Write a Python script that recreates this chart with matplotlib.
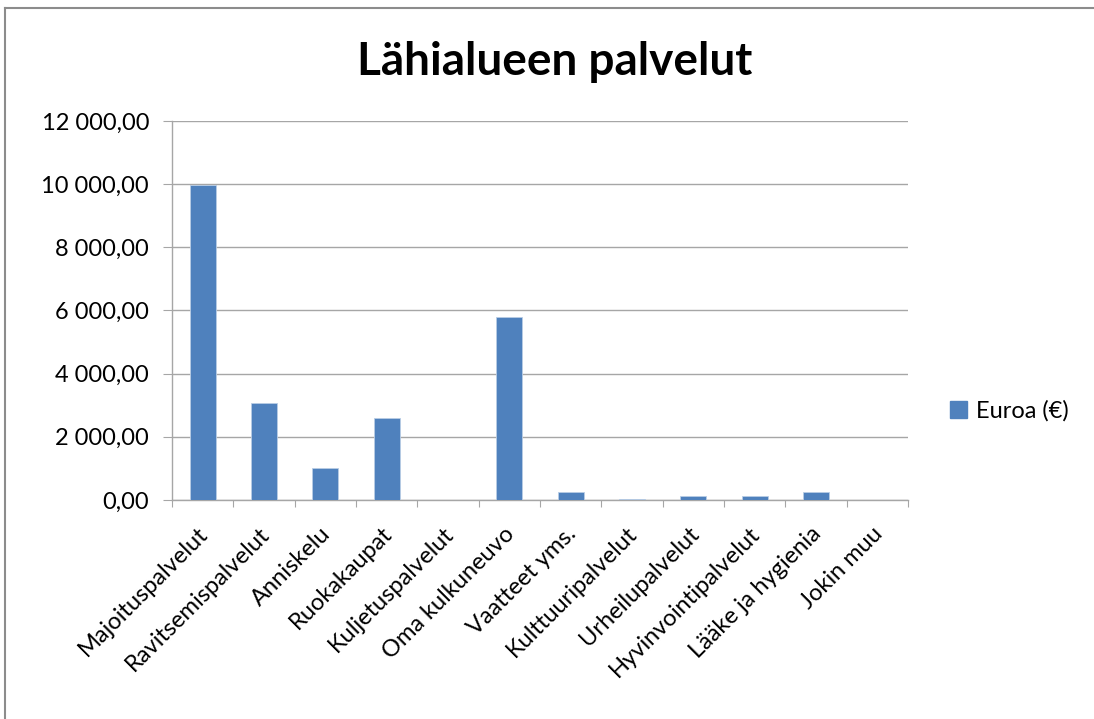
import matplotlib
matplotlib.use("Agg")
import matplotlib.pyplot as plt
import matplotlib.transforms as mtransforms
from matplotlib.ticker import FuncFormatter, MultipleLocator
from matplotlib.lines import Line2D
from matplotlib.patches import Patch

categories = ["Majoituspalvelut", "Ravitsemispalvelut", "Anniskelu", "Ruokakaupat",
              "Kuljetuspalvelut", "Oma kulkuneuvo", "Vaatteet yms.", "Kulttuuripalvelut",
              "Urheilupalvelut", "Hyvinvointipalvelut", "Lääke ja hygienia", "Jokin muu"]
values = [9960, 3070, 1000, 2590, 0, 5790, 245, 30, 120, 120, 245, 0]
series_name = "Euroa (€)"
title = "Lähialueen palvelut"

plt.rcParams['font.family'] = ['Lato', 'DejaVu Sans']

W, H = 1094, 719
fig = plt.figure(figsize=(W / 100, H / 100), dpi=100)
ax = fig.add_axes([172 / W, 1 - 500 / H, (908 - 172) / W, (500 - 121) / H])

x = list(range(len(categories)))
ax.bar(x, values, width=0.42, color="#4F81BD", edgecolor="#B9CDE5", linewidth=0.6, zorder=3)

ax.set_xlim(-0.5, len(categories) - 0.5)
ax.set_ylim(0, 12000)
ax.yaxis.set_major_locator(MultipleLocator(2000))

def fmt(v, pos):
    return f"{v:,.2f}".replace(",", " ").replace(".", ",")
ax.yaxis.set_major_formatter(FuncFormatter(fmt))

ax.grid(axis='y', color="#A6A6A6", linewidth=1.0, zorder=0)
for s in ['top', 'right']:
    ax.spines[s].set_visible(False)
for s in ['left', 'bottom']:
    ax.spines[s].set_color("#A6A6A6")
    ax.spines[s].set_linewidth(1.0)

# category boundary ticks
ax.set_xticks([i - 0.5 for i in range(len(categories) + 1)], minor=False)
ax.set_xticklabels([])
ax.set_xticks(x, minor=True)
ax.set_xticklabels(categories, minor=True, rotation=45, ha='right', va='center',
                   rotation_mode='anchor', fontsize=17)
ax.tick_params(axis='x', which='major', length=5, color="#A6A6A6", direction='out')
ax.tick_params(axis='x', which='minor', length=0, pad=22)
offset = mtransforms.ScaledTranslation(2 / 100, 0, fig.dpi_scale_trans)
for lab in ax.get_xticklabels(minor=True):
    lab.set_transform(lab.get_transform() + offset)
ax.tick_params(axis='y', length=6.5, color="#A6A6A6", labelsize=17, pad=10)

fig.text(555 / W, 1 - 62 / H, title, ha='center', va='center',
         fontsize=33, fontweight='bold')

handle = Patch(facecolor="#4F81BD", edgecolor="#4F81BD")
fig.legend([handle], [series_name], loc='center left', bbox_to_anchor=(929 / W, 1 - 411 / H),
           frameon=False, fontsize=17, handlelength=0.7, handleheight=0.7, handletextpad=0.4)

# chart area frame
fig.add_artist(Line2D([5 / W, 1], [1 - 8 / H, 1 - 8 / H], transform=fig.transFigure,
                      color="#8C8C8C", linewidth=1.5))
fig.add_artist(Line2D([5 / W, 5 / W], [1 - 8 / H, 0], transform=fig.transFigure,
                      color="#8C8C8C", linewidth=1.5))

fig.savefig("out.png", dpi=100)
